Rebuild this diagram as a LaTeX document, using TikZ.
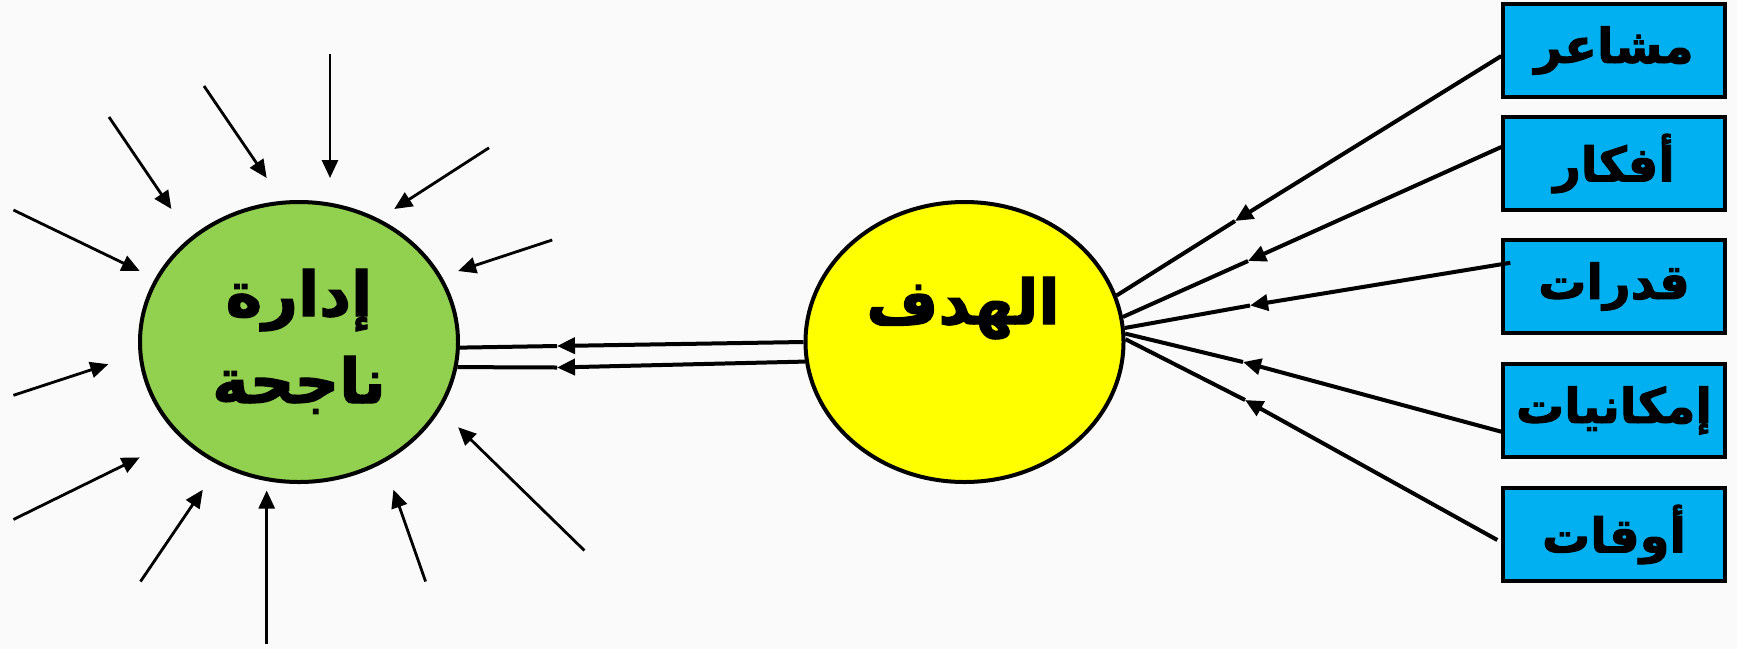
\documentclass[tikz,border=0pt]{standalone}
\usepackage{fontspec}
\usetikzlibrary{arrows.meta,shapes.geometric}
\newfontfamily\arabicfont[Script=Arabic,BoldFont={DejaVu Sans Bold},BoldFeatures={FakeBold=2}]{DejaVu Sans}
\TeXXeTstate=1
\definecolor{bg}{HTML}{FAFAFA}
\definecolor{gfill}{HTML}{92D050}
\definecolor{yfill}{HTML}{FFFF00}
\definecolor{bfill}{HTML}{00B0F0}
\tikzset{
  >={Triangle[length=18pt,width=16pt]},
  oval/.style={ellipse,draw,line width=4pt,minimum width=318pt,minimum height=280pt,inner sep=0pt},
  box/.style={draw,line width=3.4pt,fill=bfill,minimum width=222pt,minimum height=93pt,inner sep=0pt,
    font=\arabicfont\bfseries\fontsize{48}{50}\selectfont},
  bigtxt/.style={anchor=base,inner sep=0pt,font=\arabicfont\bfseries\fontsize{62}{64}\selectfont},
  ray/.style={->,line width=2.8pt},
  conn/.style={line width=4pt},
}
\begin{document}
\begin{tikzpicture}[x=1pt,y=-1pt]
\useasboundingbox[fill=bg] (0,0) rectangle (1737,649);
% ellipses
\node[oval,fill=gfill] (g) at (299,342) {};
\node[oval,fill=yfill] (y) at (964.5,342) {};
\node[bigtxt] (gt1) at (299,316) {\beginR إدارة\endR};
\node[bigtxt] (gt2) at (299,403) {\beginR ناجحة\endR};
\node[bigtxt] (yt) at (963,324) {\beginR الهدف\endR};
% boxes
\node[box] (b1) at (1614,50.5) {\beginR مشاعر\endR};
\node[box] (b2) at (1614,163.5) {\beginR أفكار\endR};
\node[box] (b3) at (1614,286.5) {\beginR قدرات\endR};
\node[box] (b4) at (1614,410.5) {\beginR إمكانيات\endR};
\node[box] (b5) at (1614,534.5) {\beginR أوقات\endR};
% mid points
\coordinate (m1) at (1235,221);
\coordinate (m2) at (1248,261);
\coordinate (m3) at (1250,305.5);
\coordinate (m4) at (1243,362);
\coordinate (m5) at (1245,400);
\draw[conn,->] ([yshift=-5.5pt]b1.west) -- (m1);
\draw[conn] (m1) -- (y.17);
\draw[conn,->] ([yshift=16.5pt]b2.west) -- (m2);
\draw[conn] (m2) -- (y.9);
\draw[conn,->] ([xshift=9pt,yshift=23.7pt]b3.west) -- (m3);
\draw[conn] (m3) -- (y.5.5);
\draw[conn,->] ([xshift=3pt,yshift=-22pt]b4.west) -- (m4);
\draw[conn] (m4) -- (y.3.5);
\draw[conn,->] ([xshift=-4pt,yshift=-5.5pt]b5.west) -- (m5);
\draw[conn] (m5) -- (y.1.8);
% middle double
\coordinate (c1) at (557,346);
\coordinate (c2) at (557,367.5);
\draw[conn,->] (y.180) -- (c1);
\draw[conn] (c1) -- (g.-2);
\draw[conn,->] (y.187.9) -- (c2);
\draw[conn] (c2) -- (g.-9.8);
% rays
\draw[ray] (330,54) -- (330,178);
\draw[ray] (204,86) -- (266.7,178);
\draw[ray] (109,117) -- (171.4,209);
\draw[ray] (13.4,210) -- (139.7,271);
\draw[ray] (13.4,395.3) -- (108.3,364.2);
\draw[ray] (13.4,519.5) -- (139.7,457.4);
\draw[ray] (140.5,581.5) -- (202.8,489.7);
\draw[ray] (266.7,643.6) -- (266.7,490.5);
\draw[ray] (425.6,581.5) -- (393.4,489.7);
\draw[ray] (584.4,550.5) -- (458.1,427.2);
\draw[ray] (552.2,240) -- (458.1,271);
\draw[ray] (489,147.8) -- (394.2,209);
\end{tikzpicture}
\end{document}
